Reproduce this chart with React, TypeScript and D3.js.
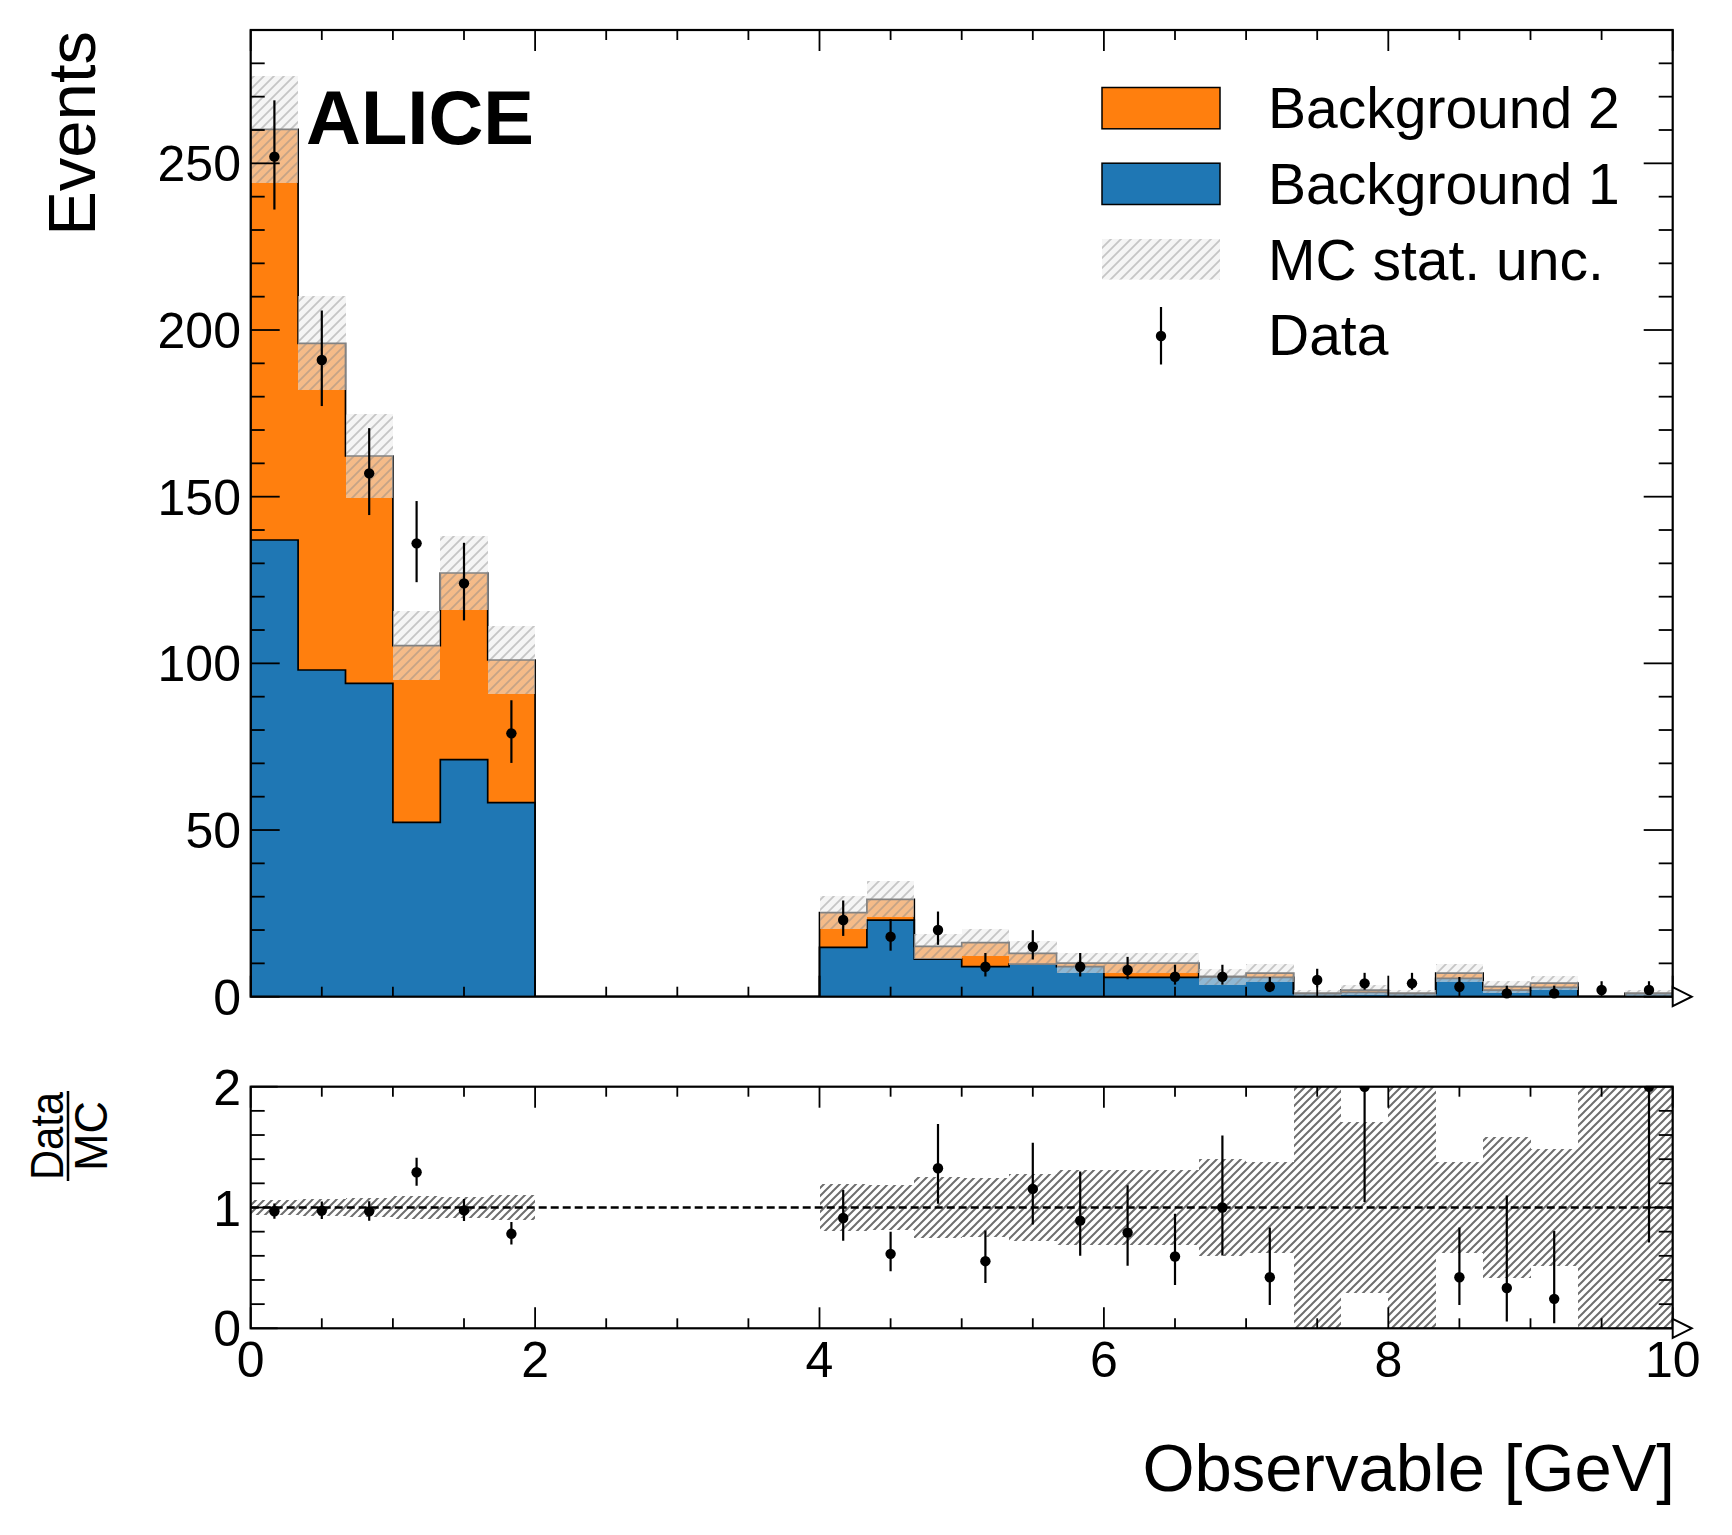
import React from 'react';
import * as d3 from 'd3';

// bin edges (GeV), 30 bins of width 1/3
const binEdges = [
  0, 1 / 3, 2 / 3, 1, 4 / 3, 5 / 3, 2, 7 / 3, 8 / 3, 3, 10 / 3, 11 / 3, 4, 13 / 3, 14 / 3, 5,
  16 / 3, 17 / 3, 6, 19 / 3, 20 / 3, 7, 22 / 3, 23 / 3, 8, 25 / 3, 26 / 3, 9, 28 / 3, 29 / 3, 10,
];

const background1 = [
  137, 98, 94, 52.3, 71.1, 58.2, 0, 0, 0, 0, 0, 0,
  14.8, 23.0, 11.3, 9.0, 9.8, 9.0, 5.8, 5.8, 6.0, 5.8, 1.0, 1.3, 1.0, 5.5, 2.0, 2.8, 0.02, 1.0,
];
const background2 = [
  123.2, 98, 68.2, 53, 56, 42.8, 0, 0, 0, 0, 0, 0,
  10.4, 6.2, 3.8, 7.2, 3.2, 1.1, 4.3, 4.3, 0, 1.3, 0, 0.7, 0, 1.6, 1.0, 1.3, 0, 0,
];
const mcStatErr = [
  16, 14.1, 12.6, 10.3, 11.2, 10.1, 0, 0, 0, 0, 0, 0,
  4.9, 5.4, 3.8, 4.0, 3.6, 3.1, 3.1, 3.1, 2.4, 2.7, 1.05, 1.41, 1.05, 2.7, 1.75, 2.0, 0.02, 1.05,
];
const dataCounts = [
  252, 191, 157, 136, 124, 79, 0, 0, 0, 0, 0, 0,
  23, 18, 20, 9, 15, 9, 8, 6, 6, 3, 5, 4, 4, 3, 1, 1, 2, 2,
];
const dataErrLow = [
  15.86, 13.81, 12.51, 11.65, 11.12, 8.87, 0, 0, 0, 0, 0, 0,
  4.76, 4.2, 4.43, 2.94, 3.83, 2.94, 2.77, 2.38, 2.38, 1.63, 2.16, 1.91, 1.91, 1.63, 0.83, 0.83, 1.29, 1.29,
];
const dataErrHigh = [
  16.9, 14.85, 13.56, 12.69, 12.17, 9.93, 0, 0, 0, 0, 0, 0,
  5.86, 5.32, 5.55, 4.11, 4.96, 4.11, 3.95, 3.58, 3.58, 2.92, 3.38, 3.16, 3.16, 2.92, 2.3, 2.3, 2.64, 2.64,
];

const mainTicks = [0, 50, 100, 150, 200, 250];
const ratioTicks = [0, 1, 2];
const xTicks = [0, 2, 4, 6, 8, 10];
const legendLabels = ['Background 2', 'Background 1', 'MC stat. unc.', 'Data'];

const BLUE = '#1f77b4';
const ORANGE = '#ff7f0e';
const FONT = '"Liberation Sans", Arial, Helvetica, sans-serif';

const W = 1732;
const H = 1535;
const left = 250.7;
const right = 1672.7;

const x = d3.scaleLinear().domain([0, 10]).range([left, right]);
const yMain = d3.scaleLinear().domain([0, 290]).range([996.7, 30]);
const yRatio = d3.scaleLinear().domain([0, 2]).range([1328.3, 1086.7]);

const total = background1.map((b, i) => b + background2[i]);

function stepPath(values: number[], y: d3.ScaleLinear<number, number>, close = false) {
  const pts: [number, number][] = [[x(binEdges[0]), y(0)]];
  values.forEach((v, i) => {
    pts.push([x(binEdges[i]), y(v)]);
    pts.push([x(binEdges[i + 1]), y(v)]);
  });
  pts.push([x(binEdges[binEdges.length - 1]), y(0)]);
  return (d3.line()(pts) || '') + (close ? 'Z' : '');
}

function Frame({ y, majorY, minorY, majorLen }: any) {
  const [y0, y1] = y.range();
  const xMinor = d3.range(0, 10.001, 0.5);
  return (
    <g stroke="#000" fill="none">
      {xMinor.map((t) => {
        const major = Math.abs(t % 2) < 1e-6;
        const len = major ? 21 : 10;
        return (
          <g key={'x' + t}>
            <line x1={x(t)} x2={x(t)} y1={y1} y2={y1 + len} strokeWidth={1.8} />
            <line x1={x(t)} x2={x(t)} y1={y0} y2={y0 - len} strokeWidth={1.8} />
          </g>
        );
      })}
      {minorY.map((t: number) => {
        const major = majorY.some((m: number) => Math.abs(m - t) < 1e-6);
        const len = major ? majorLen : 14;
        return (
          <g key={'y' + t}>
            <line x1={left} x2={left + len} y1={y(t)} y2={y(t)} strokeWidth={1.8} />
            <line x1={right} x2={right - len} y1={y(t)} y2={y(t)} strokeWidth={1.8} />
          </g>
        );
      })}
      <rect x={left} y={y1} width={right - left} height={y0 - y1} strokeWidth={2.2} />
      <path
        d={`M${right},${y0 - 9.5} L${right + 19},${y0} L${right},${y0 + 9.5} Z`}
        fill="#fff"
        strokeWidth={2}
      />
    </g>
  );
}

function DataPoint({ cx, cy, lo, hi }: { cx: number; cy: number; lo: number; hi: number }) {
  return (
    <g>
      <line x1={cx} x2={cx} y1={lo} y2={hi} stroke="#000" strokeWidth={2.2} />
      <circle cx={cx} cy={cy} r={5.2} fill="#000" />
    </g>
  );
}

export default function App() {
  const nBins = dataCounts.length;
  const centers = d3.range(nBins).map((i) => (binEdges[i] + binEdges[i + 1]) / 2);

  // one band rect per bin, adjacent bins share edges
  const band = (y: d3.ScaleLinear<number, number>, lo: (i: number) => number, hi: (i: number) => number, fill: string, key: string) =>
    total.map((t, i) =>
      t > 0 ? (
        <rect
          key={key + i}
          x={x(binEdges[i])}
          width={x(binEdges[i + 1]) - x(binEdges[i])}
          y={y(hi(i))}
          height={y(lo(i)) - y(hi(i))}
          fill={fill}
          shapeRendering="crispEdges"
        />
      ) : null
    );

  return (
    <svg
      width={W}
      height={H}
      style={{ position: 'absolute', left: 0, top: 0, background: '#fff' }}
      fontFamily={FONT}
    >
      <defs>
        <pattern id="hatchLight" patternUnits="userSpaceOnUse" width={10} height={10}>
          <rect width={10} height={10} fill="rgba(236,236,236,0.55)" />
          <path d="M-2,2 L2,-2 M0,10 L10,0 M8,12 L12,8" stroke="rgba(130,130,130,0.42)" strokeWidth={1.8} />
        </pattern>
        <pattern id="hatchDark" patternUnits="userSpaceOnUse" width={8} height={8}>
          <path d="M-2,2 L2,-2 M0,8 L8,0 M6,10 L10,6" stroke="#6e6e6e" strokeWidth={2} />
        </pattern>
        <clipPath id="clipMain">
          <rect x={left} y={yMain.range()[1]} width={right - left} height={yMain.range()[0] - yMain.range()[1]} />
        </clipPath>
        <clipPath id="clipRatio">
          <rect x={left} y={yRatio.range()[1]} width={right - left} height={yRatio.range()[0] - yRatio.range()[1]} />
        </clipPath>
      </defs>

      {/* ---------- main pane ---------- */}
      <g clipPath="url(#clipMain)">
        <path d={stepPath(total, yMain, true)} fill={ORANGE} />
        <path d={stepPath(background1, yMain, true)} fill={BLUE} />
        <path d={stepPath(background1, yMain)} fill="none" stroke="#000" strokeWidth={1.7} />
        <path d={stepPath(total, yMain)} fill="none" stroke="#000" strokeWidth={1.7} />
        {band(yMain, (i) => total[i] - mcStatErr[i], (i) => total[i] + mcStatErr[i], 'url(#hatchLight)', 'unc')}
      </g>
      <Frame y={yMain} majorY={mainTicks} minorY={d3.range(0, 290.001, 10)} majorLen={29} />
      <g>
        {dataCounts.map((d, i) =>
          d > 0 ? (
            <DataPoint
              key={'d' + i}
              cx={x(centers[i])}
              cy={yMain(d)}
              lo={yMain(d - dataErrLow[i])}
              hi={yMain(d + dataErrHigh[i])}
            />
          ) : null
        )}
      </g>
      {mainTicks.map((t) => (
        <text key={'ym' + t} x={241} y={yMain(t) + 18} fontSize={50} textAnchor="end">
          {t}
        </text>
      ))}
      <text transform={`translate(95,31) rotate(-90)`} fontSize={67} textAnchor="end">
        Events
      </text>
      <text x={306} y={144} fontSize={76} fontWeight="bold">
        ALICE
      </text>

      {/* legend */}
      <g>
        <rect x={1102} y={87.5} width={118} height={41.3} fill={ORANGE} stroke="#000" strokeWidth={1.5} />
        <rect x={1102} y={163.2} width={118} height={41.3} fill={BLUE} stroke="#000" strokeWidth={1.5} />
        <rect x={1102} y={239} width={118} height={40.6} fill="url(#hatchLight)" />
        <DataPoint cx={1161} cy={336} lo={364.5} hi={307} />
        {legendLabels.map((l, i) => (
          <text key={l} x={1268} y={128 + i * 75.8} fontSize={57}>
            {l}
          </text>
        ))}
      </g>

      {/* ---------- ratio pane ---------- */}
      <g clipPath="url(#clipRatio)">
        {band(yRatio, (i) => 1 - mcStatErr[i] / total[i], (i) => 1 + mcStatErr[i] / total[i], 'url(#hatchDark)', 'ru')}
        <line
          x1={left}
          x2={right}
          y1={yRatio(1)}
          y2={yRatio(1)}
          stroke="#000"
          strokeWidth={2.4}
          strokeDasharray="8,4"
        />
        {dataCounts.map((d, i) =>
          d > 0 && total[i] > 0 ? (
            <DataPoint
              key={'rd' + i}
              cx={x(centers[i])}
              cy={yRatio(d / total[i])}
              lo={yRatio((d - dataErrLow[i]) / total[i])}
              hi={yRatio((d + dataErrHigh[i]) / total[i])}
            />
          ) : null
        )}
      </g>
      <Frame y={yRatio} majorY={ratioTicks} minorY={d3.range(0, 2.001, 0.2)} majorLen={27} />
      {ratioTicks.map((t) => (
        <text key={'yr' + t} x={241} y={yRatio(t) + 18} fontSize={50} textAnchor="end">
          {t}
        </text>
      ))}
      {xTicks.map((t) => (
        <text key={'x' + t} x={x(t)} y={1377} fontSize={50} textAnchor="middle">
          {t}
        </text>
      ))}
      <g transform="translate(0,1136) rotate(-90)">
        <text x={0} y={63} fontSize={47} textAnchor="middle" textLength={88} lengthAdjust="spacingAndGlyphs">
          Data
        </text>
        <line x1={-45} x2={45} y1={68} y2={68} stroke="#000" strokeWidth={2.5} />
        <text x={0} y={107} fontSize={47} textAnchor="middle" textLength={70} lengthAdjust="spacingAndGlyphs">
          MC
        </text>
      </g>
      <text x={1675} y={1491} fontSize={67} textAnchor="end">
        Observable [GeV]
      </text>
    </svg>
  );
}
